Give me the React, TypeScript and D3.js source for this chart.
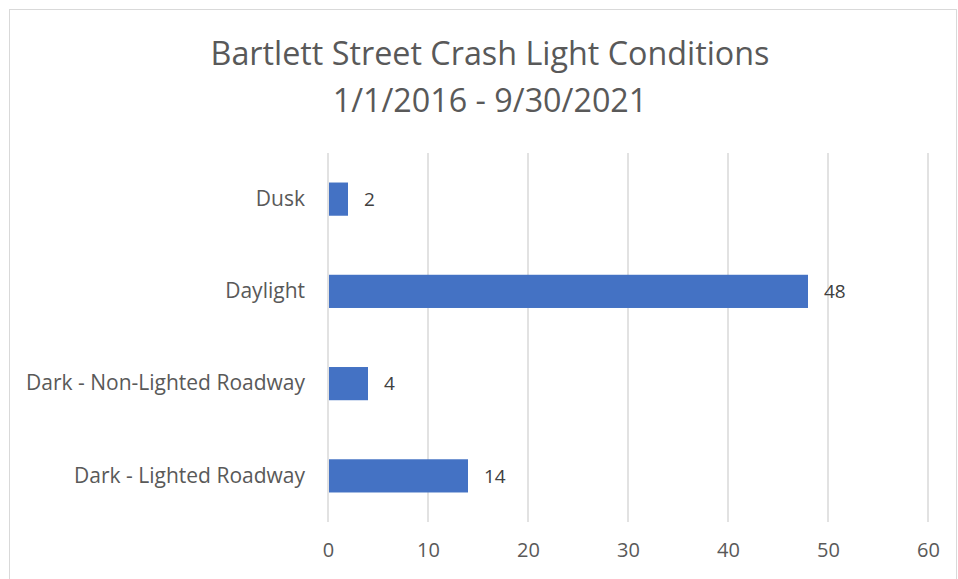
import React, { useEffect, useRef } from 'react';
import * as d3 from 'd3';

const categories = ['Dusk', 'Daylight', 'Dark - Non-Lighted Roadway', 'Dark - Lighted Roadway'];
const values = [2, 48, 4, 14];
const xTicks = [0, 10, 20, 30, 40, 50, 60];
const titleLines = ['Bartlett Street Crash Light Conditions', '1/1/2016 - 9/30/2021'];

const App = () => {
  const ref = useRef<SVGSVGElement>(null);

  useEffect(() => {
    const svg = d3.select(ref.current);
    svg.selectAll('*').remove();

    const width = 958;
    const height = 579;
    const margin = { top: 153, right: 30, bottom: 57, left: 328 };
    const font = '"Open Sans", "Liberation Sans", sans-serif';

    // chart frame
    svg.append('rect')
      .attr('x', 9.5).attr('y', 9.5)
      .attr('width', 947).attr('height', 580)
      .attr('fill', '#fff')
      .attr('stroke', '#d9d9d9');

    // title
    svg.append('g')
      .selectAll('text')
      .data(titleLines)
      .enter().append('text')
      .attr('x', 490)
      .attr('y', (d, i) => 65 + i * 47)
      .attr('text-anchor', 'middle')
      .attr('font-family', font)
      .attr('font-size', 32.3)
      .attr('fill', '#595959')
      .text(d => d);

    const xScale = d3.scaleLinear()
      .domain([0, 60])
      .range([margin.left, width - margin.right]);

    const yScale = d3.scaleBand()
      .domain(categories)
      .range([margin.top, height - margin.bottom])
      .paddingInner(0.64)
      .paddingOuter(0.32);

    // gridlines
    svg.append('g')
      .selectAll('line')
      .data(xTicks)
      .enter().append('line')
      .attr('x1', d => xScale(d)).attr('x2', d => xScale(d))
      .attr('y1', margin.top).attr('y2', height - margin.bottom)
      .attr('stroke', '#d9d9d9')
      .attr('stroke-width', 1.5);

    // bars
    svg.append('g')
      .selectAll('rect')
      .data(categories)
      .enter().append('rect')
      .attr('x', xScale(0) + 1)
      .attr('y', d => yScale(d)!)
      .attr('width', (d, i) => xScale(values[i]) - xScale(0) - 1)
      .attr('height', yScale.bandwidth())
      .attr('fill', '#4472c4');

    // value labels
    svg.append('g')
      .selectAll('text')
      .data(categories)
      .enter().append('text')
      .attr('x', (d, i) => xScale(values[i]) + 16)
      .attr('y', d => yScale(d)! + yScale.bandwidth() / 2)
      .attr('dy', '0.35em')
      .attr('font-family', font)
      .attr('font-size', 19)
      .attr('fill', '#404040')
      .text((d, i) => values[i]);

    // category labels
    const yAxis = svg.append('g')
      .attr('transform', `translate(${margin.left},0)`)
      .call(d3.axisLeft(yScale).tickSize(0).tickPadding(23));
    yAxis.select('.domain').remove();
    yAxis.selectAll('text')
      .attr('font-family', font)
      .attr('font-size', 21)
      .attr('fill', '#595959');

    // x axis labels
    const xAxis = svg.append('g')
      .attr('transform', `translate(0,${height - margin.bottom})`)
      .call(d3.axisBottom(xScale).tickValues(xTicks).tickSize(0).tickPadding(21));
    xAxis.select('.domain').remove();
    xAxis.selectAll('text')
      .attr('font-family', font)
      .attr('font-size', 20)
      .attr('fill', '#595959');
  }, []);

  return (
    <svg ref={ref} width={958} height={579} style={{ position: 'absolute', left: 0, top: 0 }} />
  );
};

export default App;
